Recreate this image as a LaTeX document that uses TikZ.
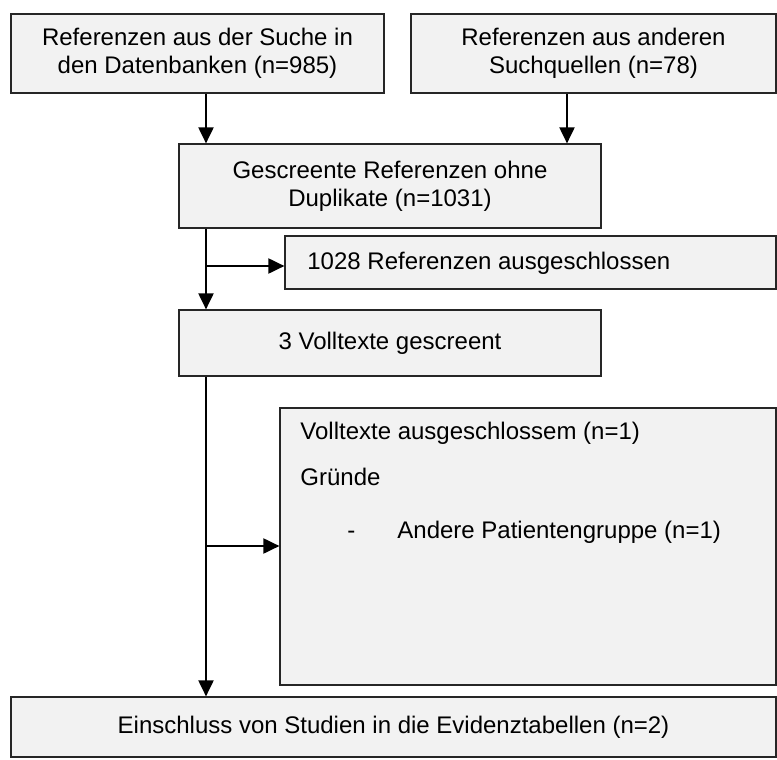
\documentclass[tikz,border=0pt]{standalone}
\usepackage{fontspec}
\setmainfont{Liberation Sans}
\usetikzlibrary{arrows.meta}
\begin{document}
\begin{tikzpicture}[x=0.5pt,y=-0.5pt,
  box/.style={draw=black!85, fill=black!5, line width=0.6pt, inner sep=0pt, align=center, font=\fontsize{12}{13.8}\selectfont},
  txt/.style={inner sep=0pt, anchor=base west, font=\fontsize{12}{13.8}\selectfont},
  arr/.style={line width=1pt, -{Triangle[length=8pt,width=7.5pt]}}]
\useasboundingbox (0,0) rectangle (777,760);
\node[box, minimum width=186.5pt, minimum height=39.5pt] (b1) at (197.5,53.5) {Referenzen aus der Suche in\\den Datenbanken (n=985)};
\node[box, minimum width=182.5pt, minimum height=39.5pt] (b2) at (593.5,53.5) {Referenzen aus anderen\\Suchquellen (n=78)};
\node[box, minimum width=211pt, minimum height=42pt] (b3) at (390,186) {Gescreente Referenzen ohne\\Duplikate (n=1031)};
\node[box, minimum width=245.5pt, minimum height=26.5pt] (b4) at (530.5,262.5) {};
\node[txt] (t4) at (307,269) {1028 Referenzen ausgeschlossen};
\node[box, minimum width=211pt, minimum height=33pt] (b5) at (390,343) {3 Volltexte gescreent};
\node[box, minimum width=248pt, minimum height=138.5pt] (b6) at (528,546.5) {};
\node[txt] (t6a) at (300,439) {Volltexte ausgeschlossem (n=1)};
\node[txt] (t6b) at (300,485) {Gründe};
\node[txt] (t6d) at (397,538) {Andere Patientengruppe (n=1)};
\coordinate (x3) at (347,0);
\node[txt] (t6c) at (t6d.base -| x3) {-};
\node[box, minimum width=382.5pt, minimum height=30pt] (b7) at (393.5,727) {Einschluss von Studien in die Evidenztabellen (n=2)};
\coordinate (x1) at (206,0);
\coordinate (x2) at (567,0);
\coordinate (j1) at (206,266);
\coordinate (j2) at (206,546);
\draw[arr] (b1.south -| x1) -- (b3.north -| x1);
\draw[arr] (b2.south -| x2) -- (b3.north -| x2);
\draw[arr] (b3.south -| x1) -- (b5.north -| x1);
\draw[arr] (j1) -- (j1 -| b4.west);
\draw[arr] (b5.south -| x1) -- (b7.north -| x1);
\draw[arr] (j2) -- (j2 -| b6.west);
\end{tikzpicture}
\end{document}
